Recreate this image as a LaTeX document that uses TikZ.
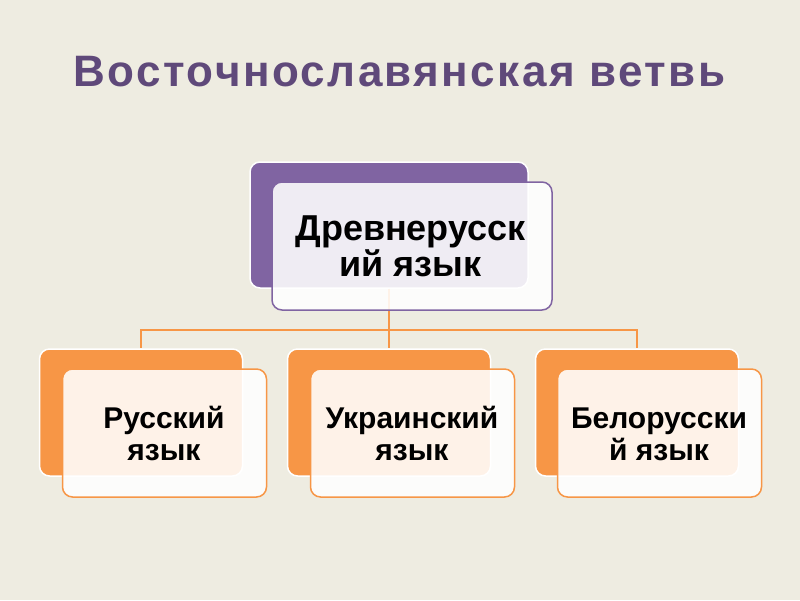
\documentclass[tikz,border=0pt]{standalone}
\usepackage{fontspec}
\setmainfont{Liberation Sans}
\newfontfamily\titlefont[LetterSpace=5.5]{Liberation Sans}
\definecolor{bgtan}{HTML}{EEECE1}
\definecolor{titlepurple}{HTML}{5F497A}
\definecolor{boxpurple}{HTML}{8064A2}
\definecolor{boxorange}{HTML}{F79646}
\begin{document}
\begin{tikzpicture}[x=1pt,y=-1pt,
  backbox/.style={draw=white, line width=1.5pt, rounded corners=10pt, inner sep=0pt,
     minimum width=#1, minimum height=127pt},
  frontbox/.style={line width=1.5pt, rounded corners=10pt, inner sep=0pt,
     fill=white, fill opacity=0.88, minimum width=204pt, minimum height=128pt},
  link/.style={draw=boxorange, line width=1.6pt},
  toptext/.style={font=\bfseries\fontsize{36}{36}\selectfont, text=black, anchor=base, inner sep=0pt},
  subtext/.style={font=\bfseries\fontsize{30}{30}\selectfont, text=black, anchor=base, inner sep=0pt}]
\fill[bgtan] (0,0) rectangle (800,600);
\useasboundingbox (0,0) rectangle (800,600);
\node[text=titlepurple, font=\titlefont\bfseries\fontsize{44}{50}\selectfont, anchor=base, inner sep=0pt] (title) at (399.5,86.5) {Восточнославянская ветвь};
% back boxes
\node[backbox=278pt, minimum height=126pt, fill=boxpurple] (topback) at (389,225) {};
\node[backbox=203pt, fill=boxorange] (lback) at (141,412.5) {};
\node[backbox=203pt, fill=boxorange] (mback) at (389,412.5) {};
\node[backbox=203pt, fill=boxorange] (rback) at (637,412.5) {};
% connectors
\coordinate (hub) at (389,330);
\draw[link] (topback.south) -- (hub);
\draw[link] (hub) -| (lback.north);
\draw[link] (hub) -- (mback.north);
\draw[link] (hub) -| (rback.north);
% front boxes
\node[frontbox, draw=boxpurple, minimum width=280pt, minimum height=128pt] (topfront) at (412,246) {};
\node[frontbox, draw=boxorange] (lfront) at (164.5,433) {};
\node[frontbox, draw=boxorange] (mfront) at (412.5,433) {};
\node[frontbox, draw=boxorange] (rfront) at (659.5,433) {};
% texts
\node[toptext] (topA) at (410.5,240) {Древнерусск};
\node[toptext] (topB) at (410.5,276) {ий язык};
\node[subtext] (lA) at (164,428) {Русский};
\node[subtext] (lB) at (164,460) {язык};
\node[subtext] (mA) at (412,428) {Украинский};
\node[subtext] (mB) at (412,460) {язык};
\node[subtext] (rA) at (659,428) {Белорусски};
\node[subtext] (rB) at (659,460) {й язык};
\end{tikzpicture}
\end{document}
